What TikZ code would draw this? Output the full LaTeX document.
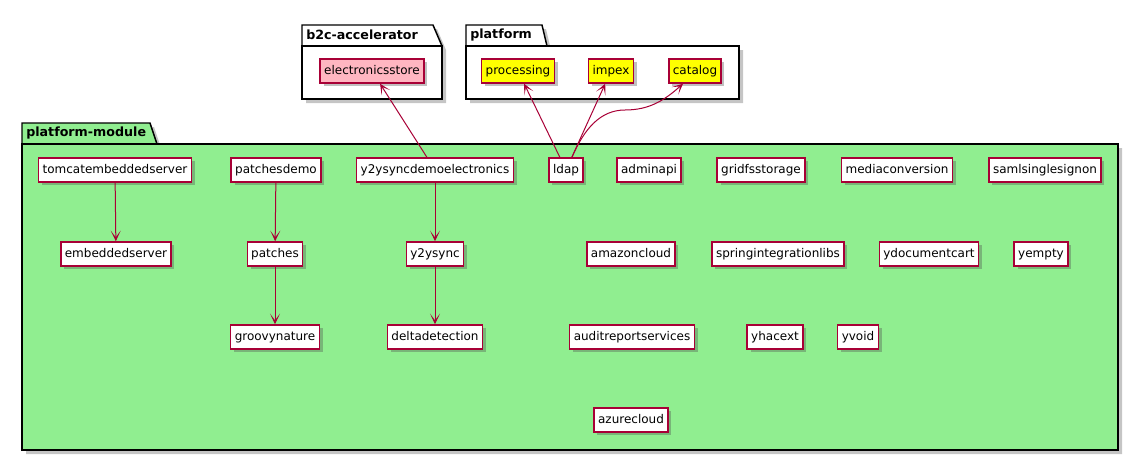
\documentclass[tikz,border=0pt]{standalone}
\usepackage{fontspec}
\setmainfont{DejaVu Sans}
\usetikzlibrary{arrows.meta,shadows}
\definecolor{pumlred}{HTML}{A80036}
\definecolor{pgreen}{HTML}{90EE90}
\definecolor{ppink}{HTML}{FFB6C1}
\definecolor{pyellow}{HTML}{FFFF00}
\tikzset{
  comp/.style={draw=pumlred, line width=1.1pt, fill=white,
    font=\fontsize{9}{10}\selectfont, inner xsep=3pt, inner ysep=0pt,
    minimum height=18pt, text height=7pt, text depth=2pt,
    drop shadow={shadow xshift=2.5pt, shadow yshift=-2.5pt, opacity=0.35, fill=black!70}},
  pinkcomp/.style={comp, fill=ppink},
  yelcomp/.style={comp, fill=pyellow},
  arr/.style={draw=pumlred, line width=0.75pt, -{Stealth[length=8pt,width=7.5pt,inset=5pt]}},
  pkg/.style={draw=black, line width=1.1pt},
  pkgshadow/.style={fill=black!45, opacity=0.5},
  ptitle/.style={font=\fontsize{9.5}{11}\selectfont\bfseries, inner sep=0pt, anchor=west}
}
\begin{document}
\begin{tikzpicture}[x=0.75pt,y=-0.75pt]
\useasboundingbox (0,0) rectangle (1139,461);

% b2c-accelerator package
\fill[pkgshadow] (306,29) -- (437,29) -- (446,50) -- (446,103) -- (306,103) -- cycle;
\draw[pkg, fill=white] (302,25) -- (433,25) -- (442,46) -- (302,46) -- cycle;
\draw[pkg, fill=white] (302,46) rectangle (442,99);
\node[ptitle] (tb2c) at (306,35) {b2c-accelerator};

% platform package
\fill[pkgshadow] (470,29) -- (546,29) -- (551,50) -- (743,50) -- (743,103) -- (470,103) -- cycle;
\draw[pkg, fill=white] (466,25) -- (542,25) -- (547,46) -- (466,46) -- cycle;
\draw[pkg, fill=white] (466,46) rectangle (739,99);
\node[ptitle] (tplat) at (470,35) {platform};

% platform-module package
\fill[pkgshadow] (26,127) -- (154,127) -- (161,148) -- (1122,148) -- (1122,454) -- (26,454) -- cycle;
\draw[pkg, fill=pgreen] (22,123) -- (150,123) -- (157,144) -- (22,144) -- cycle;
\draw[pkg, fill=pgreen] (22,144) rectangle (1118,450);
\node[ptitle] (tpm) at (26,133.5) {platform-module};

% top nodes
\node[pinkcomp] (electronicsstore) at (372,71) {electronicsstore};
\node[yelcomp] (processing) at (518,71) {processing};
\node[yelcomp] (impex) at (611,71) {impex};
\node[yelcomp] (catalog) at (695,71) {catalog};

% row 1
\node[comp] (tomcatembeddedserver) at (115,170) {tomcatembeddedserver};
\node[comp] (patchesdemo) at (276,170) {patchesdemo};
\node[comp] (y2ysyncdemoelectronics) at (435,170) {y2ysyncdemoelectronics};
\node[comp] (ldap) at (566,170) {ldap};
\node[comp] (adminapi) at (649,170) {adminapi};
\node[comp] (gridfsstorage) at (761,170) {gridfsstorage};
\node[comp] (mediaconversion) at (897,170) {mediaconversion};
\node[comp] (samlsinglesignon) at (1045,170) {samlsinglesignon};

% row 2
\node[comp] (embeddedserver) at (116,254) {embeddedserver};
\node[comp] (patches) at (275,254) {patches};
\node[comp] (y2ysync) at (435,254) {y2ysync};
\node[comp] (amazoncloud) at (631,254) {amazoncloud};
\node[comp] (springintegrationlibs) at (778,254) {springintegrationlibs};
\node[comp] (ydocumentcart) at (929,254) {ydocumentcart};
\node[comp] (yempty) at (1041,254) {yempty};

% row 3
\node[comp] (groovynature) at (275,337) {groovynature};
\node[comp] (deltadetection) at (435,337) {deltadetection};
\node[comp] (auditreportservices) at (632,337) {auditreportservices};
\node[comp] (yhacext) at (775,337) {yhacext};
\node[comp] (yvoid) at (858,337) {yvoid};

% row 4
\node[comp] (azurecloud) at (631,420) {azurecloud};

% connectors
\draw[arr] (y2ysyncdemoelectronics) -- (electronicsstore);
\draw[arr] (ldap) -- (processing);
\draw[arr] (ldap) -- (impex);
\coordinate (cmid) at (625,110);
\draw[arr] ([xshift=4.5pt]ldap.north) .. controls +(12,-28) and +(-25,0) .. (cmid)
  .. controls +(25,0) and +(-18,16) .. ([xshift=-9pt]catalog.south);
\draw[arr] (tomcatembeddedserver) -- (embeddedserver);
\draw[arr] (patchesdemo) -- (patches);
\draw[arr] (patches) -- (groovynature);
\draw[arr] (y2ysyncdemoelectronics) -- (y2ysync);
\draw[arr] (y2ysync) -- (deltadetection);
\end{tikzpicture}
\end{document}
